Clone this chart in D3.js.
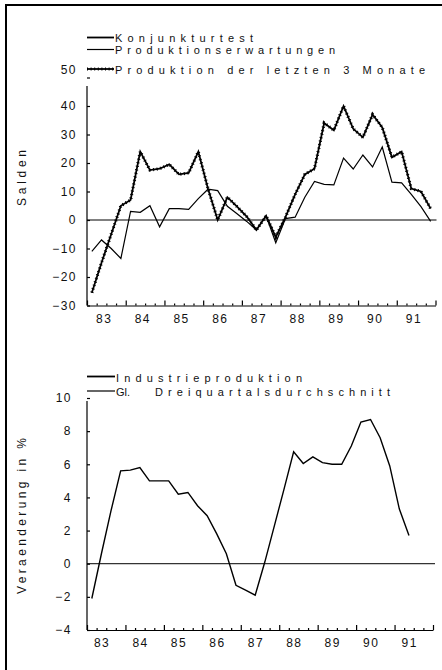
<!DOCTYPE html>
<html>
<head>
<meta charset="utf-8">
<script src="https://d3js.org/d3.v7.min.js"></script>
<style>
  body { margin: 0; background: #fff; }
  text { font-family: "Liberation Sans", Arial, sans-serif; fill: #111; }
  .tick text { font-size: 12px; letter-spacing: 1.5px; }
</style>
</head>
<body>
<script>
var svgWidth = 442;
var svgHeight = 670;

// quarterly data 1983 Q1 - 1991 Q4
var years = [1983, 1984, 1985, 1986, 1987, 1988, 1989, 1990, 1991];
var yearLabels = ["83", "84", "85", "86", "87", "88", "89", "90", "91"];
var quarterNames = ["I", "II", "III", "IV"];

var produktionLetzte3 = [-25.5, -15, -5, 5, 7, 24, 17.5, 18, 19.5, 16, 16.5, 24,
  11, 0, 8, 4.7, 1.2, -3.5, 1.5, -6, 1, 9, 16, 18,
  34, 31.5, 40, 32, 29, 37, 32.5, 22, 24, 11, 10, 4];
var produktionserwartungen = [-11, -7, -10, -13.5, 3, 2.7, 5, -2.4, 4, 4, 3.7, 7.5,
  10.8, 10.3, 4.8, 2.2, -0.5, -3.5, 1.5, -8, 0.5, 1, 8, 13.5,
  12.5, 12.3, 21.7, 17.9, 22.8, 18.6, 25.6, 13.3, 13, 9, 4.7, -0.5];
// industrial production, moving three-quarter average (1983 I - 1991 II)
var dreiquartalsschnitt = [-2.1, 0.6, 3.2, 5.6, 5.65, 5.8, 5.0, 5.0, 5.0, 4.2, 4.3, 3.5,
  2.9, 1.8, 0.6, -1.3, -1.6, -1.9, 0.1, 2.3, 4.5, 6.75, 6.05, 6.45,
  6.1, 6.0, 6.0, 7.1, 8.55, 8.7, 7.6, 5.9, 3.3, 1.7];

var saldenTicks = [-30, -20, -10, 0, 10, 20, 30, 40, 50];
var veraenderungTicks = [-4, -2, 0, 2, 4, 6, 8, 10];

var quarters = [];
years.forEach(function(y) {
  quarterNames.forEach(function(q, k) { quarters.push(y + (k + 0.5) / 4); });
});
var minorTicks = [];
years.forEach(function(y) { minorTicks.push(y + 0.25, y + 0.5, y + 0.75); });
var majorTicks = years.concat([1992]);

var svg = d3.select("body")
  .append("svg")
  .attr("width", svgWidth)
  .attr("height", svgHeight);

// scanned frame: top and left edge
svg.append("line").attr("x1", 5).attr("y1", 5).attr("x2", 442).attr("y2", 5)
  .attr("stroke", "#000").attr("stroke-width", 2);
svg.append("line").attr("x1", 6).attr("y1", 4).attr("x2", 6).attr("y2", 670)
  .attr("stroke", "#000").attr("stroke-width", 2);

function drawXAxis(xScale, yPos, labelPad, labelShift) {
  var g = svg.append("g").attr("transform", `translate(0, ${yPos})`);
  g.append("g")
    .call(d3.axisBottom(xScale).tickValues(minorTicks).tickSize(-2).tickSizeOuter(0).tickFormat(""));
  g.append("g")
    .call(d3.axisBottom(xScale).tickValues(majorTicks).tickSize(-5).tickSizeOuter(0).tickFormat(""))
    .select(".domain").remove();
  var labels = g.append("g")
    .call(d3.axisBottom(xScale).tickValues(years.map(d => d + labelShift)).tickSize(0)
      .tickPadding(labelPad).tickFormat((d, i) => yearLabels[i]));
  labels.select(".domain").remove();
  g.selectAll("path, line").attr("stroke", "#000").attr("stroke-width", 1.2);
}

function drawYAxis(yScale, ticks, pad, top) {
  var g = svg.append("g").attr("transform", "translate(87, 0)");
  g.call(d3.axisLeft(yScale).tickValues(ticks).tickSize(-3).tickSizeOuter(0)
    .tickPadding(pad).tickFormat(d3.format("d")));
  g.select(".domain").remove();
  g.append("line")
    .attr("x1", 0).attr("x2", 0)
    .attr("y1", top).attr("y2", yScale(ticks[0]))
    .attr("stroke", "#000").attr("stroke-width", 1.2);
  g.selectAll(".tick line").attr("stroke", "#000").attr("stroke-width", 1.2);
  return g;
}

// ---------- top chart: Salden ----------
var xTop = d3.scaleLinear().domain([1983, 1992]).range([87, 435.5]);
var yTop = d3.scaleLinear().domain([-30, 50]).range([305.5, 77.5]);

var yAxisTop = drawYAxis(yTop, saldenTicks, 10, 86);
// the top label sits a bit higher in the original
yAxisTop.selectAll(".tick text").filter(d => d === 50).attr("dy", "-0.3em");
drawXAxis(xTop, yTop(-30), 9, 0.43);

svg.append("line")
  .attr("x1", xTop(1983)).attr("x2", xTop(1992) + 1)
  .attr("y1", yTop(0)).attr("y2", yTop(0))
  .attr("stroke", "#000").attr("stroke-width", 1);

var lineTop = d3.line()
  .x((d, i) => xTop(quarters[i]))
  .y(d => yTop(d));

svg.append("path")
  .datum(produktionserwartungen)
  .attr("d", lineTop)
  .attr("fill", "none").attr("stroke", "#000").attr("stroke-width", 1.2);

svg.append("path")
  .datum(produktionLetzte3)
  .attr("d", lineTop)
  .attr("fill", "none").attr("stroke", "#000").attr("stroke-width", 1.8);
svg.append("path")
  .datum(produktionLetzte3)
  .attr("d", lineTop)
  .attr("fill", "none").attr("stroke", "#000").attr("stroke-width", 3.2)
  .attr("stroke-dasharray", "1 2.6");

svg.append("text")
  .attr("transform", "translate(26, 178) rotate(-90)")
  .attr("text-anchor", "middle")
  .attr("font-size", 12)
  .attr("textLength", 56)
  .text("Salden");

// top legend
var legendTop = svg.append("g");
legendTop.append("line").attr("x1", 87).attr("x2", 114).attr("y1", 37.5).attr("y2", 37.5)
  .attr("stroke", "#000").attr("stroke-width", 1.8);
legendTop.append("text").attr("x", 115).attr("y", 42).attr("font-size", 11)
  .attr("textLength", 138).text("Konjunkturtest");
legendTop.append("line").attr("x1", 87).attr("x2", 114).attr("y1", 49.5).attr("y2", 49.5)
  .attr("stroke", "#000").attr("stroke-width", 1.2);
legendTop.append("text").attr("x", 115).attr("y", 54).attr("font-size", 11)
  .attr("textLength", 220).text("Produktionserwartungen");
legendTop.append("line").attr("x1", 87).attr("x2", 114).attr("y1", 69).attr("y2", 69)
  .attr("stroke", "#000").attr("stroke-width", 1.8);
legendTop.append("line").attr("x1", 87).attr("x2", 114).attr("y1", 69).attr("y2", 69)
  .attr("stroke", "#000").attr("stroke-width", 3.2).attr("stroke-dasharray", "1 2.6");
legendTop.append("text").attr("x", 115).attr("y", 73.5).attr("font-size", 11)
  .attr("textLength", 310).text("Produktion der letzten 3 Monate");

// ---------- bottom chart: Veraenderung in % ----------
var xBot = d3.scaleLinear().domain([1983, 1992]).range([87, 433]);
var yBot = d3.scaleLinear().domain([-4, 10]).range([630, 398]);

drawYAxis(yBot, veraenderungTicks, 15, 401);
drawXAxis(xBot, yBot(-4), 8.5, 0.38);

svg.append("line")
  .attr("x1", xBot(1983)).attr("x2", xBot(1992) + 2)
  .attr("y1", yBot(0)).attr("y2", yBot(0))
  .attr("stroke", "#000").attr("stroke-width", 1);

var lineBot = d3.line()
  .x((d, i) => xBot(quarters[i]))
  .y(d => yBot(d));

svg.append("path")
  .datum(dreiquartalsschnitt)
  .attr("d", lineBot)
  .attr("fill", "none").attr("stroke", "#000").attr("stroke-width", 1.4);

svg.append("text")
  .attr("transform", "translate(26, 516) rotate(-90)")
  .attr("text-anchor", "middle")
  .attr("font-size", 12)
  .attr("textLength", 156)
  .text("Veraenderung in %");

var legendBot = svg.append("g");
legendBot.append("line").attr("x1", 87).attr("x2", 115).attr("y1", 376.5).attr("y2", 376.5)
  .attr("stroke", "#000").attr("stroke-width", 1.8);
legendBot.append("text").attr("x", 116).attr("y", 381.5).attr("font-size", 11)
  .attr("textLength", 186).text("Industrieproduktion");
legendBot.append("line").attr("x1", 87).attr("x2", 115).attr("y1", 391).attr("y2", 391)
  .attr("stroke", "#000").attr("stroke-width", 1.2);
legendBot.append("text").attr("x", 116).attr("y", 395.5).attr("font-size", 11)
  .attr("textLength", 14).text("Gl.");
legendBot.append("text").attr("x", 155).attr("y", 395.5).attr("font-size", 11)
  .attr("textLength", 235).text("Dreiquartalsdurchschnitt");
</script>
</body>
</html>
